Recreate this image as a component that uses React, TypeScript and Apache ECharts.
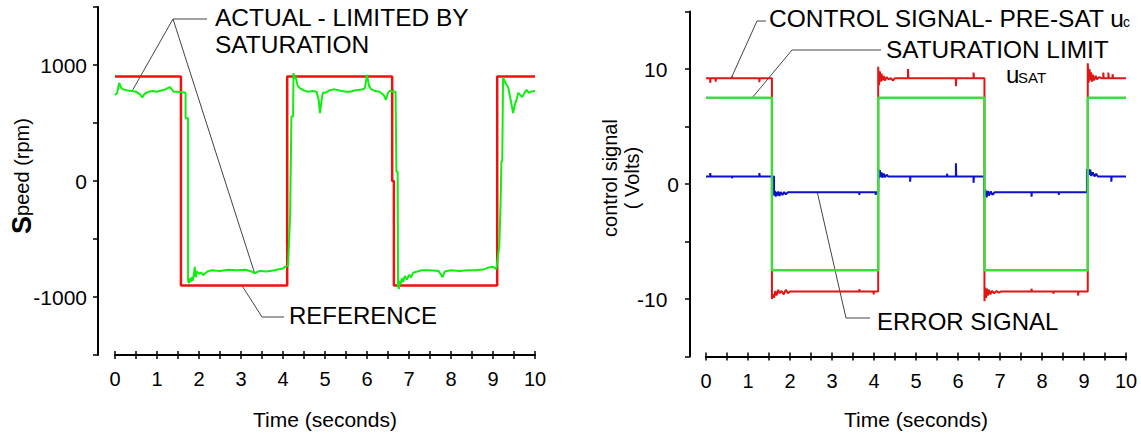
import React, { useEffect, useRef } from "react";
import * as echarts from "echarts";

// ---------- DATA ----------
// Left chart: speed (rpm) vs time (s)
const speedReference: [number, number][] = [
  [0, 900], [1.57, 900], [1.57, -900], [4.1, -900], [4.1, 900], [6.6, 900],
  [6.6, 0], [6.64, 0], [6.64, -900], [9.1, -900], [9.1, 900], [10, 900],
];

const speedActual: [number, number][] = [
  [0, 740], [0.05, 760], [0.1, 845], [0.15, 800], [0.2, 790], [0.3, 780], [0.4, 775],
  [0.5, 770], [0.6, 745], [0.65, 720], [0.7, 750], [0.8, 770], [0.9, 775], [1.0, 770],
  [1.1, 780], [1.2, 790], [1.3, 810], [1.35, 790], [1.4, 770], [1.5, 770], [1.6, 765],
  [1.68, 760], [1.68, 540], [1.74, 540], [1.74, -860], [1.76, -880], [1.78, -840],
  [1.8, -870], [1.83, -830], [1.85, -860], [1.88, -800], [1.9, -740], [1.92, -830],
  [1.95, -780], [2.0, -800], [2.05, -790], [2.1, -810], [2.2, -780], [2.3, -770],
  [2.5, -775], [2.7, -765], [2.9, -770], [3.1, -765], [3.25, -780], [3.32, -795],
  [3.45, -775], [3.6, -780], [3.8, -770], [3.9, -760], [4.0, -755], [4.05, -740],
  [4.12, -730], [4.17, -300], [4.2, 555], [4.24, 555], [4.25, 930], [4.28, 880],
  [4.3, 900], [4.35, 820], [4.4, 800], [4.5, 780], [4.6, 770], [4.7, 775], [4.8, 770],
  [4.85, 700], [4.88, 585], [4.92, 700], [4.95, 760], [5.0, 760], [5.1, 780],
  [5.2, 790], [5.3, 785], [5.4, 775], [5.5, 770], [5.6, 770], [5.7, 780], [5.8, 785],
  [5.9, 790], [5.95, 800], [6.0, 915], [6.05, 820], [6.1, 790], [6.2, 775], [6.3, 770],
  [6.4, 740], [6.45, 700], [6.5, 760], [6.55, 780], [6.6, 770], [6.68, 770],
  [6.7, 80], [6.73, 80], [6.74, -910], [6.76, -930], [6.78, -860], [6.8, -890],
  [6.83, -840], [6.86, -870], [6.9, -820], [6.95, -850], [7.0, -810], [7.05, -830],
  [7.1, -790], [7.2, -780], [7.3, -770], [7.5, -770], [7.7, -775], [7.75, -800],
  [7.8, -830], [7.85, -780], [8.0, -770], [8.2, -775], [8.4, -770], [8.6, -770],
  [8.8, -760], [8.9, -745], [9.0, -740], [9.08, -760], [9.15, -560], [9.18, -200],
  [9.2, 170], [9.22, 170], [9.24, 890], [9.28, 860], [9.32, 830], [9.36, 810],
  [9.42, 700], [9.48, 585], [9.52, 660], [9.56, 700], [9.6, 760], [9.65, 740],
  [9.7, 725], [9.75, 760], [9.8, 785], [9.85, 760], [9.9, 770], [10, 775],
];

// Right chart: control signals (Volts) vs time (s)
const controlPreSat: [number, number][] = [
  [0, 9.2], [0.1, 9.2], [0.1, 8.8], [0.11, 9.2], [0.23, 9.2], [0.23, 8.9], [0.24, 9.2],
  [0.62, 9.2], [0.62, 9.35], [0.63, 9.2], [1.27, 9.2], [1.27, 8.85], [1.28, 9.2],
  [1.57, 9.2], [1.57, -10], [1.6, -9.6], [1.62, -9.9], [1.65, -9.3], [1.68, -9.7],
  [1.72, -9.2], [1.75, -9.5], [1.8, -9.3], [1.85, -9.6], [1.9, -9.2], [1.95, -9.5],
  [2.0, -9.35], [3.65, -9.35], [3.65, -9.15], [3.66, -9.35], [3.99, -9.35],
  [3.99, -9.6], [4.0, -9.35], [4.1, -9.35], [4.1, 10.2], [4.12, 8.6], [4.14, 9.8],
  [4.16, 8.9], [4.18, 9.6], [4.2, 9.0], [4.23, 9.4], [4.26, 9.0], [4.3, 9.3],
  [4.35, 9.1], [4.4, 9.2], [4.45, 9.0], [4.5, 9.2], [4.81, 9.2], [4.81, 10.0],
  [4.82, 9.2], [5.95, 9.2], [5.95, 8.5], [5.96, 9.2], [6.37, 9.2], [6.37, 9.7],
  [6.38, 9.2], [6.63, 9.2], [6.63, -10.2], [6.65, -9.0], [6.67, -9.9], [6.69, -9.1],
  [6.71, -9.7], [6.74, -9.2], [6.77, -9.6], [6.81, -9.3], [6.86, -9.5], [6.92, -9.3],
  [6.97, -9.45], [7.02, -9.35], [7.75, -9.35], [7.75, -9.1], [7.76, -9.35],
  [8.27, -9.35], [8.27, -9.55], [8.28, -9.35], [8.86, -9.35], [8.86, -9.7],
  [8.87, -9.35], [9.09, -9.35], [9.09, 10.5], [9.11, 8.8], [9.13, 10.0], [9.15, 9.0],
  [9.17, 9.7], [9.19, 8.9], [9.21, 9.5], [9.24, 9.0], [9.28, 9.4], [9.31, 9.1],
  [9.36, 9.3], [9.41, 9.2], [9.46, 9.2], [9.46, 9.7], [9.47, 9.2], [9.58, 9.2],
  [9.58, 9.7], [9.59, 9.2], [9.68, 9.2], [9.68, 9.55], [9.69, 9.2], [10, 9.2],
];

const errorSignal: [number, number][] = [
  [0, 0.66], [0.1, 0.66], [0.1, 0.95], [0.11, 0.66], [0.62, 0.66], [0.62, 0.5],
  [0.63, 0.66], [1.27, 0.66], [1.27, 0.95], [1.28, 0.66], [1.62, 0.66], [1.62, -1.0],
  [1.64, -0.6], [1.66, -1.1], [1.68, -0.7], [1.7, -1.0], [1.72, -0.65], [1.75, -1.05],
  [1.78, -0.7], [1.82, -0.95], [1.86, -0.7], [1.9, -0.9], [1.95, -0.72], [2.05, -0.72],
  [3.65, -0.72], [3.65, -0.95], [3.66, -0.72], [4.04, -0.72], [4.04, -0.95],
  [4.05, -0.72], [4.1, -0.72], [4.1, 1.3], [4.12, 0.5], [4.14, 1.2], [4.16, 0.6],
  [4.18, 1.0], [4.2, 0.55], [4.23, 0.9], [4.26, 0.6], [4.3, 0.8], [4.34, 0.66],
  [4.86, 0.66], [4.86, 0.2], [4.87, 0.66], [5.74, 0.66], [5.74, 0.9], [5.75, 0.66],
  [5.95, 0.66], [5.95, 1.8], [5.96, 0.66], [6.37, 0.66], [6.37, 0.1], [6.38, 0.66],
  [6.62, 0.66], [6.62, -1.1], [6.65, -0.5], [6.68, -1.15], [6.71, -0.6], [6.74, -1.0],
  [6.78, -0.65], [6.82, -0.95], [6.87, -0.72], [7.75, -0.72], [7.75, -1.1],
  [7.76, -0.72], [8.4, -0.72], [8.4, -0.95], [8.41, -0.72], [9.07, -0.72], [9.07, 1.3],
  [9.09, 0.7], [9.11, 1.3], [9.13, 0.8], [9.15, 1.25], [9.17, 0.7], [9.21, 1.0],
  [9.25, 0.66], [9.29, 0.9], [9.33, 0.66], [9.65, 0.66], [9.65, 0.2], [9.66, 0.66],
  [10, 0.66],
];

const saturationLimit: [number, number][] = [
  [0, 7.5], [1.57, 7.5], [1.57, -7.5], [4.1, -7.5], [4.1, 7.5], [6.63, 7.5],
  [6.63, -7.5], [9.09, -7.5], [9.09, 7.5], [10, 7.5],
];

const speedTickLabels = [-1000, 0, 1000];
const voltTickLabels = [-10, 0, 10];

// ---------- CHART ----------
const FONT = "'Liberation Sans', Arial, Helvetica, sans-serif";

function xAxes(gridIndex: number, nameGap: number) {
  const base = {
    gridIndex,
    type: "value" as const,
    min: 0,
    max: 10,
    interval: 0.5,
    position: "bottom" as const,
    splitLine: { show: false },
  };
  return [
    {
      ...base,
      axisLine: { show: true, onZero: false, lineStyle: { color: "#000", width: 2 } },
      axisTick: { show: true, inside: false, length: 4, lineStyle: { color: "#000", width: 1.5 } },
      axisLabel: {
        interval: 0,
        formatter: (v: number) => (Math.abs(v - Math.round(v)) < 1e-6 ? String(Math.round(v)) : ""),
        fontSize: 20,
        color: "#000",
        fontFamily: FONT,
        margin: 14,
      },
      name: "Time (seconds)",
      nameLocation: "middle" as const,
      nameGap,
      nameTextStyle: { fontSize: 21, color: "#000", fontFamily: FONT },
    },
    {
      ...base,
      axisLine: { show: false, onZero: false },
      axisTick: { show: true, inside: true, length: 4, lineStyle: { color: "#000", width: 1.5 } },
      axisLabel: { show: false },
    },
  ];
}

function buildOption() {
  return {
    animation: false,
    backgroundColor: "#fff",
    grid: [
      { left: 115, top: 7, width: 420, height: 348 },
      { left: 706, top: 11.5, width: 420, height: 345 },
    ],
    xAxis: [...xAxes(0, 54), ...xAxes(1, 52)],
    yAxis: [
      {
        gridIndex: 0,
        type: "value",
        min: -1500,
        max: 1500,
        interval: 500,
        offset: 17,
        axisLine: { show: true, onZero: false, lineStyle: { color: "#000", width: 2 } },
        axisTick: { show: true, length: 5, lineStyle: { color: "#000", width: 1.5 } },
        axisLabel: {
          formatter: (v: number) => (speedTickLabels.includes(v) ? String(v) : ""),
          fontSize: 21,
          color: "#000",
          fontFamily: FONT,
          margin: 11,
        },
        splitLine: { show: false },
      },
      {
        gridIndex: 1,
        type: "value",
        min: -15,
        max: 15,
        interval: 5,
        offset: 16,
        axisLine: { show: true, onZero: false, lineStyle: { color: "#000", width: 2 } },
        axisTick: { show: true, length: 5, lineStyle: { color: "#000", width: 1.5 } },
        axisLabel: {
          formatter: (v: number) =>
            voltTickLabels.includes(v) ? (v === 0 ? "0" : String(v) + "\u00a0\u00a0") : "",
          fontSize: 21,
          color: "#000",
          fontFamily: FONT,
          margin: 11,
        },
        splitLine: { show: false },
      },
    ],
    series: [
      {
        name: "Reference",
        type: "line",
        xAxisIndex: 0,
        yAxisIndex: 0,
        data: speedReference,
        showSymbol: false,
        symbol: "none",
        silent: true,
        lineStyle: { color: "#f01010", width: 2.5 },
      },
      {
        name: "Actual",
        type: "line",
        xAxisIndex: 0,
        yAxisIndex: 0,
        data: speedActual,
        showSymbol: false,
        symbol: "none",
        silent: true,
        lineStyle: { color: "#10ee10", width: 2 },
      },
      {
        name: "Control signal pre-sat",
        type: "line",
        xAxisIndex: 2,
        yAxisIndex: 1,
        data: controlPreSat,
        showSymbol: false,
        symbol: "none",
        silent: true,
        lineStyle: { color: "#e01515", width: 2 },
      },
      {
        name: "Error signal",
        type: "line",
        xAxisIndex: 2,
        yAxisIndex: 1,
        data: errorSignal,
        showSymbol: false,
        symbol: "none",
        silent: true,
        lineStyle: { color: "#1010c8", width: 2 },
      },
      {
        name: "Saturation limit",
        type: "line",
        xAxisIndex: 2,
        yAxisIndex: 1,
        data: saturationLimit,
        showSymbol: false,
        symbol: "none",
        silent: true,
        lineStyle: { color: "#3fdc3f", width: 2.5 },
      },
    ],
  };
}

export default function App() {
  const ref = useRef<HTMLDivElement>(null);
  useEffect(() => {
    if (!ref.current) return;
    const chart = echarts.init(ref.current, null, { renderer: "svg" });
    chart.setOption(buildOption() as any);

    const pL = (x: number, y: number) =>
      chart.convertToPixel({ xAxisIndex: 0, yAxisIndex: 0 } as any, [x, y]) as number[];
    const pR = (x: number, y: number) =>
      chart.convertToPixel({ xAxisIndex: 2, yAxisIndex: 1 } as any, [x, y]) as number[];

    const lineStyle = { stroke: "#444", lineWidth: 1, fill: null };
    const txt = (x: number, y: number, text: string, fontSize = 24, extra: any = {}) => ({
      type: "text",
      x,
      y,
      silent: true,
      style: {
        text,
        fontSize,
        fontFamily: FONT,
        fill: "#000",
        align: "left",
        verticalAlign: "middle",
        ...extra,
      },
    });

    const actualA = pL(0.42, 784);
    const actualB = pL(3.32, -790);
    const refPt = pL(3.02, -900);
    const ctrlPt = pR(0.6, 9.2);
    const satPt = pR(1.1, 7.5);
    const errPt = pR(2.65, -0.72);

    const graphic: any[] = [
      // left annotations
      { type: "polyline", silent: true, shape: { points: [actualA, [173, 19], [207, 19]] }, style: lineStyle },
      { type: "polyline", silent: true, shape: { points: [actualB, [173, 19]] }, style: lineStyle },
      txt(215, 17, "ACTUAL - LIMITED BY", 24.5),
      txt(215, 44, "SATURATION", 24.5),
      { type: "polyline", silent: true, shape: { points: [refPt, [262, 317], [284, 317]] }, style: lineStyle },
      txt(289, 315, "REFERENCE"),
      // left y name
      {
        type: "text",
        x: 22,
        y: 176,
        rotation: Math.PI / 2,
        silent: true,
        style: {
          text: "{b|S}{n|peed (rpm)}",
          align: "center",
          verticalAlign: "middle",
          fill: "#000",
          rich: {
            b: { fontSize: 27, fontWeight: "bold", fontFamily: FONT, fill: "#000" },
            n: { fontSize: 20, fontFamily: FONT, fill: "#000" },
          },
        },
      },
      // right annotations
      { type: "polyline", silent: true, shape: { points: [ctrlPt, [757, 21], [766, 21]] }, style: lineStyle },
      txt(769, 18.6, "CONTROL SIGNAL- PRE-SAT u", 24.5),
      txt(1123, 22, "c", 14),
      { type: "polyline", silent: true, shape: { points: [satPt, [792, 50], [881, 50]] }, style: lineStyle },
      txt(886, 49, "SATURATION LIMIT", 24.4),
      txt(1006, 74, "u", 24),
      txt(1018, 77, "SAT", 15),
      { type: "polyline", silent: true, shape: { points: [errPt, [846, 318], [870, 318]] }, style: lineStyle },
      txt(877, 321, "ERROR SIGNAL"),
      // right y name
      {
        type: "text",
        x: 621,
        y: 178,
        rotation: Math.PI / 2,
        silent: true,
        style: {
          text: "control signal\n( Volts)",
          align: "center",
          verticalAlign: "middle",
          fontSize: 20,
          lineHeight: 22,
          fontFamily: FONT,
          fill: "#000",
        },
      },
    ];

    chart.setOption({ graphic });
    return () => chart.dispose();
  }, []);

  return (
    <div
      ref={ref}
      style={{ position: "absolute", left: 0, top: 0, width: 1141, height: 436, background: "#fff" }}
    />
  );
}
